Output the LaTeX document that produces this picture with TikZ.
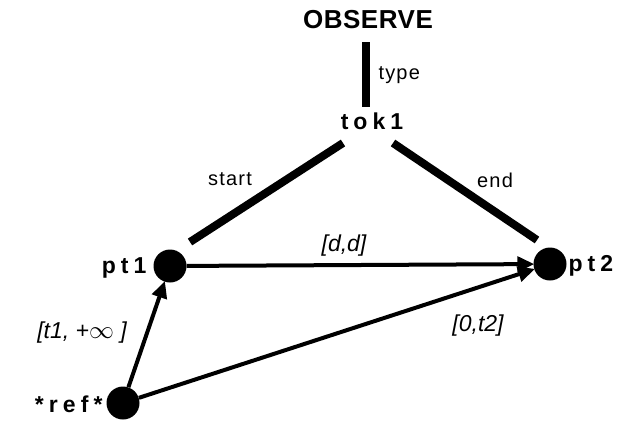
\documentclass[tikz,border=0pt]{standalone}
\usepackage{fontspec}
\setmainfont{Liberation Sans}
\usetikzlibrary{arrows.meta}
\begin{document}
\begin{tikzpicture}[x=1pt,y=-1pt,
  dot/.style={circle,fill=black,inner sep=0pt,minimum size=33pt},
  thickrel/.style={line width=8pt},
  arr/.style={line width=4pt,-{Triangle[length=17pt,width=15pt]}, shorten >=-1pt},
  spaced/.style={font=\fontsize{23}{26}\selectfont\bfseries\addfontfeatures{LetterSpace=22}},
  rel/.style={font=\fontsize{20}{24}\selectfont\addfontfeatures{LetterSpace=6}},
  ival/.style={font=\fontsize{23}{26}\selectfont\itshape}]
\useasboundingbox (0,0) rectangle (626,421);
\node[font=\fontsize{26}{30}\selectfont\bfseries\addfontfeatures{LetterSpace=2}] (obs) at (368,20) {OBSERVE};
\node[spaced] (tok) at (372,121) {tok1};
\coordinate (obsb) at (366,42);
\coordinate (tokt) at (366,107);
\draw[thickrel] (obsb) -- (tokt);
\node[rel,anchor=west] (type) at (375,75) {type};
\node[dot] (pt1) at (170,266) {};
\node[dot] (pt2) at (550,264) {};
\node[dot] (ref) at (123,403) {};
\node[spaced,anchor=east] (pt1l) at (150,268) {pt1};
\node[spaced,anchor=west] (pt2l) at (565,266) {pt2};
\node[spaced,anchor=east] (refl) at (106,404) {*ref*};
\coordinate (st1) at (343,143);
\coordinate (st2) at (190,242);
\coordinate (en1) at (393,143);
\coordinate (en2) at (537,240);
\draw[thickrel] (st1) -- (st2);
\draw[thickrel] (en1) -- (en2);
\node[rel] (startl) at (230,179) {start};
\node[rel] (endl) at (495,180) {end};
\draw[arr] (pt1) -- (pt2);
\draw[arr] (ref) -- (pt1);
\draw[arr] (ref) -- (pt2);
\node[ival] (dd) at (344,246) {[d,d]};
\node[ival] (t1) at (82,333) {[t1, +\(\infty\) ]};
\node[ival] (t2) at (478,326) {[0,t2]};
\end{tikzpicture}
\end{document}
